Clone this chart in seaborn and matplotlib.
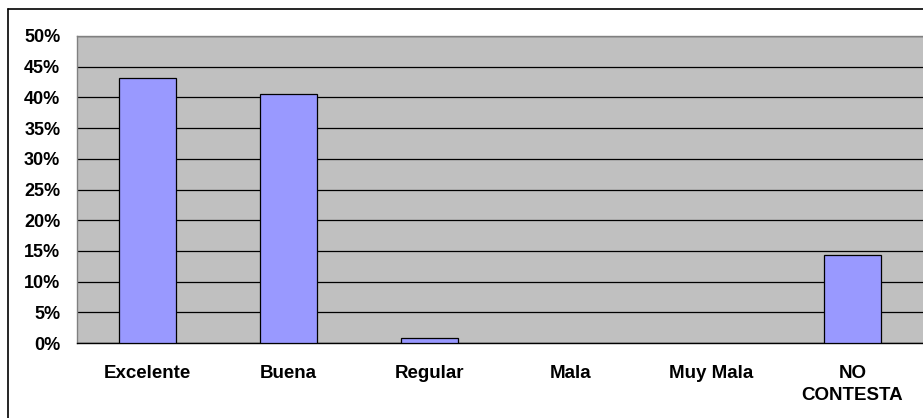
import matplotlib
matplotlib.use('Agg')
import matplotlib.pyplot as plt
import seaborn as sns
import pandas as pd
from matplotlib.lines import Line2D
from matplotlib.ticker import FixedLocator, PercentFormatter

categories = ['Excelente', 'Buena', 'Regular', 'Mala', 'Muy Mala', 'NO\nCONTESTA']
values = [43.2, 40.5, 0.8, 0.0, 0.0, 14.3]
y_ticks = [0, 5, 10, 15, 20, 25, 30, 35, 40, 45, 50]

df = pd.DataFrame({'Categoria': categories, 'Porcentaje': values})

sns.set_style('white')
plt.rcParams['font.family'] = ['Liberation Sans', 'DejaVu Sans']

fig = plt.figure(figsize=(9.23, 4.18), dpi=100)
ax = fig.add_axes([77 / 923, 1 - 343 / 418, 846 / 923, 307 / 418])
ax.set_facecolor('#C0C0C0')

sns.barplot(data=df, x='Categoria', y='Porcentaje', color='#9999FF',
            saturation=1, width=0.41, edgecolor='black', linewidth=0.9,
            ax=ax, zorder=3)
# empty categories get no outline
for patch in ax.patches:
    if patch.get_height() == 0:
        patch.set_linewidth(0)

ax.set_ylim(0, 50)
ax.set_xlim(-0.5, len(categories) - 0.5)
ax.set_yticks(y_ticks)
ax.yaxis.set_major_formatter(PercentFormatter(decimals=0))
ax.grid(axis='y', color='black', linewidth=0.9, zorder=0)
ax.set_axisbelow(True)

ax.set_xlabel('')
ax.set_ylabel('')
ax.tick_params(axis='x', which='major', length=0, pad=16, labelsize=13.5, labelcolor='black')
ax.xaxis.set_minor_locator(FixedLocator([i + 0.5 for i in range(len(categories) - 1)]))
ax.tick_params(axis='x', which='minor', length=5, color='#808080', width=1, direction='out')
ax.tick_params(axis='y', length=5, color='#808080', width=1, direction='out', pad=7,
               labelsize=13, labelcolor='black')
for lab in ax.get_xticklabels() + ax.get_yticklabels():
    lab.set_fontweight('bold')
    lab.set_linespacing(1.35)

for side in ['left', 'top', 'right']:
    ax.spines[side].set_color('#808080')
    ax.spines[side].set_linewidth(1)
ax.spines['bottom'].set_color('black')
ax.spines['bottom'].set_linewidth(1)
ax.spines['right'].set_visible(False)

# outer chart border (only left and top visible in the cropped image)
fig.add_artist(Line2D([8 / 923, 8 / 923], [0, 1 - 9 / 418], color='black', linewidth=1.2))
fig.add_artist(Line2D([8 / 923, 1], [1 - 9 / 418, 1 - 9 / 418], color='black', linewidth=1.2))

plt.savefig('out.png', dpi=100)
plt.close()
